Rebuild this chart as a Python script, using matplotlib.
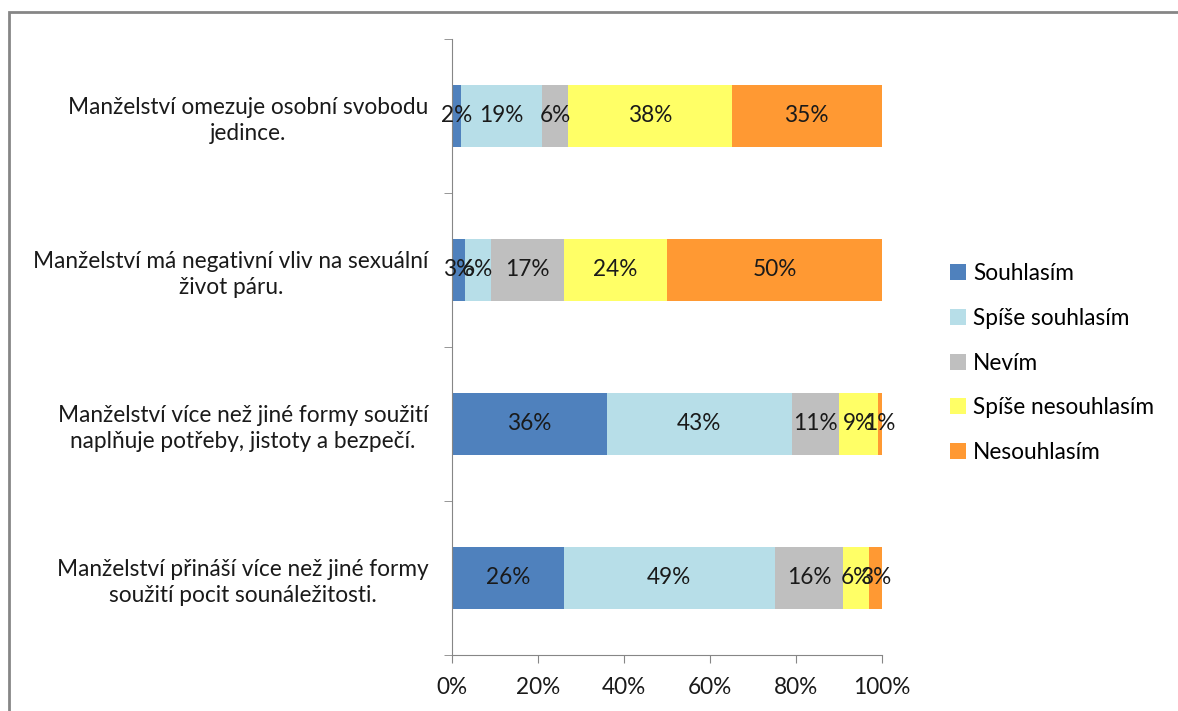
import matplotlib.pyplot as plt
from matplotlib.patches import Rectangle

# Data
statements = [
    'Manželství omezuje osobní svobodu\njedince.',
    'Manželství má negativní vliv na sexuální\nživot páru.',
    'Manželství více než jiné formy soužití\nnaplňuje potřeby, jistoty a bezpečí.',
    'Manželství přináší více než jiné formy\nsoužití pocit sounáležitosti.',
]
answers = ['Souhlasím', 'Spíše souhlasím', 'Nevím', 'Spíše nesouhlasím', 'Nesouhlasím']
souhlasim = [2, 3, 36, 26]
spise_souhlasim = [19, 6, 43, 49]
nevim = [6, 17, 11, 16]
spise_nesouhlasim = [38, 24, 9, 6]
nesouhlasim = [35, 50, 1, 3]
colors = ['#4F81BD', '#B7DEE8', '#BFBFBF', '#FFFF66', '#FF9933']
xticks = [0, 20, 40, 60, 80, 100]

series = [souhlasim, spise_souhlasim, nevim, spise_nesouhlasim, nesouhlasim]

plt.rcParams['font.family'] = ['Lato', 'DejaVu Sans']
fs = 16.3

fig = plt.figure(figsize=(11.78, 7.11), dpi=100)
ax = fig.add_axes([452 / 1178, 1 - 655 / 711, 430 / 1178, 616 / 711])

# outer chart frame
fig.patches.append(Rectangle((9 / 1178, -0.05), 1.2, 1 - 12 / 711 + 0.05,
                             transform=fig.transFigure, fill=False,
                             edgecolor='#868686', linewidth=2))

ypos = list(range(len(statements)))
left = [0] * len(statements)
for vals, name, c in zip(series, answers, colors):
    bars = ax.barh(ypos, vals, left=left, height=0.4, color=c, label=name)
    for b, v in zip(bars, vals):
        ax.text(b.get_x() + b.get_width() / 2, b.get_y() + b.get_height() / 2,
                f'{v}%', ha='center', va='center', fontsize=fs, color='#1a1a1a')
    left = [l + v for l, v in zip(left, vals)]

ax.set_xlim(0, 100)
ax.set_ylim(3.5, -0.5)
ax.set_xticks(xticks)
ax.set_xticklabels([f'{t}%' for t in xticks], fontsize=fs, color='#1a1a1a')

# category labels centered on bars, ticks on category boundaries
ax.set_yticks(ypos)
ax.set_yticklabels(statements, fontsize=fs, color='#1a1a1a', multialignment='center',
                   linespacing=1.3)
ax.tick_params(axis='y', which='major', length=0, pad=17)
ax.set_yticks([-0.5, 0.5, 1.5, 2.5, 3.5], minor=True)
ax.tick_params(axis='y', which='minor', length=6, color='#868686', direction='out')
ax.tick_params(axis='x', length=6, color='#868686', direction='out', pad=10)

for s in ['top', 'right']:
    ax.spines[s].set_visible(False)
for s in ['left', 'bottom']:
    ax.spines[s].set_color('#868686')

fig.legend(loc='center left', bbox_to_anchor=(930 / 1178, 1 - 363 / 711),
           frameon=False, fontsize=fs, handlelength=0.7, handleheight=0.7,
           handletextpad=0.3, labelspacing=1.05)

fig.savefig('out.png', dpi=100)
